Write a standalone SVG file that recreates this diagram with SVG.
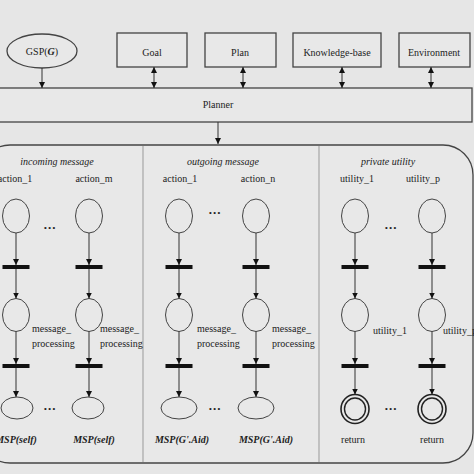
<svg xmlns="http://www.w3.org/2000/svg" width="474" height="474" viewBox="0 0 474 474">
<style>
text{font-family:"Liberation Serif","Times New Roman",serif;font-size:10px;fill:#222}
.m{text-anchor:middle}
.it{font-style:italic}
.bi{font-style:italic;font-weight:bold}
.box{fill:#e8e8e8;stroke:#444;stroke-width:1.3}
.ln{stroke:#333;stroke-width:1;fill:none}
.pl{fill:none;stroke:#444;stroke-width:1}
.bar{fill:#111}
.dots{font-size:13px;font-weight:bold;letter-spacing:1px;text-anchor:middle}
.div{stroke:#999;stroke-width:1}
</style>
<defs>
<marker id="ah" viewBox="0 0 8 8" refX="8" refY="4" markerWidth="6" markerHeight="6" orient="auto" markerUnits="userSpaceOnUse">
<path d="M0,0 L8,4 L0,8 z" fill="#111"/>
</marker>
<marker id="as" viewBox="0 0 8 8" refX="0" refY="4" markerWidth="6" markerHeight="6" orient="auto" markerUnits="userSpaceOnUse">
<path d="M8,0 L0,4 L8,8 z" fill="#111"/>
</marker>
</defs>
<rect x="0" y="0" width="474" height="474" fill="#e6e6e6"/>

<g id="gsp"><ellipse cx="42" cy="51" rx="35" ry="17" class="box"/><text x="42" y="55" class="m">GSP(<tspan class="bi">G</tspan>)</text></g>
<g id="goal"><rect x="117" y="33" width="70" height="34" class="box"/><text x="152" y="56" class="m">Goal</text></g>
<g id="plan"><rect x="205" y="33" width="71" height="34" class="box"/><text x="240" y="56" class="m">Plan</text></g>
<g id="kb"><rect x="293" y="33" width="88" height="34" class="box"/><text x="337" y="56" class="m">Knowledge-base</text></g>
<g id="env"><rect x="399" y="33" width="71" height="34" class="box"/><text x="434" y="56" class="m">Environment</text></g>
<g id="planner"><rect x="-5" y="88" width="477" height="34" class="box"/><text x="218" y="108" class="m">Planner</text></g>

<g id="container">
<rect x="-20" y="145" width="493" height="318" rx="30" ry="30" class="box"/>
<line x1="143" y1="146" x2="143" y2="462" class="div"/>
<line x1="319" y1="146" x2="319" y2="462" class="div"/>
<text x="57" y="165" class="m it">incoming message</text>
<text x="223" y="165" class="m it">outgoing message</text>
<text x="388" y="165" class="m it">private utility</text>
</g>

<g id="places">
<text x="15" y="182" class="m">action_1</text>
<text x="94" y="182" class="m">action_m</text>
<text x="180" y="182" class="m">action_1</text>
<text x="258" y="182" class="m">action_n</text>
<text x="357" y="182" class="m">utility_1</text>
<text x="423" y="182" class="m">utility_p</text>

<ellipse cx="16" cy="216" rx="13.5" ry="17" class="pl"/>
<ellipse cx="89" cy="216" rx="13.5" ry="17" class="pl"/>
<ellipse cx="179" cy="216" rx="13.5" ry="17" class="pl"/>
<ellipse cx="256" cy="216" rx="13.5" ry="17" class="pl"/>
<ellipse cx="355" cy="216" rx="13.5" ry="17" class="pl"/>
<ellipse cx="432" cy="216" rx="13.5" ry="17" class="pl"/>
<text x="50" y="229" class="dots">...</text>
<text x="215" y="214" class="dots">...</text>
<text x="391" y="229" class="dots">...</text>

<rect x="2.5" y="265" width="27" height="4" class="bar"/>
<rect x="75.5" y="265" width="27" height="4" class="bar"/>
<rect x="165.5" y="265" width="27" height="4" class="bar"/>
<rect x="242.5" y="265" width="27" height="4" class="bar"/>
<rect x="341.5" y="265" width="27" height="4" class="bar"/>
<rect x="418.5" y="265" width="27" height="4" class="bar"/>

<ellipse cx="16" cy="315" rx="13.5" ry="16.5" class="pl"/>
<ellipse cx="89" cy="315" rx="13.5" ry="16.5" class="pl"/>
<ellipse cx="179" cy="315" rx="13.5" ry="16.5" class="pl"/>
<ellipse cx="256" cy="315" rx="13.5" ry="16.5" class="pl"/>
<ellipse cx="355" cy="315" rx="13.5" ry="16.5" class="pl"/>
<ellipse cx="432" cy="315" rx="13.5" ry="16.5" class="pl"/>
<text x="32" y="332">message_</text><text x="32" y="347">processing</text>
<text x="100" y="332">message_</text><text x="100" y="347">processing</text>
<text x="197" y="332">message_</text><text x="197" y="347">processing</text>
<text x="272" y="332">message_</text><text x="272" y="347">processing</text>
<text x="373" y="334">utility_1</text>
<text x="443" y="334">utility_p</text>

<rect x="2.5" y="364" width="27" height="4" class="bar"/>
<rect x="75.5" y="364" width="27" height="4" class="bar"/>
<rect x="165.5" y="364" width="27" height="4" class="bar"/>
<rect x="242.5" y="364" width="27" height="4" class="bar"/>
<rect x="341.5" y="364" width="27" height="4" class="bar"/>
<rect x="418.5" y="364" width="27" height="4" class="bar"/>

<ellipse cx="17" cy="408" rx="16" ry="11" class="pl"/>
<ellipse cx="88" cy="408" rx="16" ry="11" class="pl"/>
<ellipse cx="179" cy="408" rx="18" ry="11" class="pl"/>
<ellipse cx="256" cy="408" rx="18" ry="11" class="pl"/>
<ellipse cx="355" cy="409" rx="14" ry="14.5" fill="none" stroke="#222" stroke-width="1.6"/>
<ellipse cx="355" cy="409" rx="10.5" ry="11" fill="none" stroke="#222" stroke-width="1.4"/>
<ellipse cx="432" cy="409" rx="14" ry="14.5" fill="none" stroke="#222" stroke-width="1.6"/>
<ellipse cx="432" cy="409" rx="10.5" ry="11" fill="none" stroke="#222" stroke-width="1.4"/>
<text x="50" y="410" class="dots">...</text>
<text x="215" y="410" class="dots">...</text>
<text x="391" y="410" class="dots">...</text>

<text x="16" y="443" class="m bi">MSP(self)</text>
<text x="94" y="443" class="m bi">MSP(self)</text>
<text x="182" y="443" class="m bi">MSP(G'.Aid)</text>
<text x="266" y="443" class="m bi">MSP(G'.Aid)</text>
<text x="353" y="443" class="m">return</text>
<text x="432" y="443" class="m">return</text>
</g>

<g id="connectors">
<line x1="42" y1="68" x2="42" y2="88" class="ln" marker-end="url(#ah)"/>
<line x1="154" y1="67" x2="154" y2="88" class="ln" marker-start="url(#as)" marker-end="url(#ah)"/>
<line x1="243" y1="67" x2="243" y2="88" class="ln" marker-start="url(#as)" marker-end="url(#ah)"/>
<line x1="342" y1="67" x2="342" y2="88" class="ln" marker-start="url(#as)" marker-end="url(#ah)"/>
<line x1="431" y1="67" x2="431" y2="88" class="ln" marker-start="url(#as)" marker-end="url(#ah)"/>
<line x1="218" y1="122" x2="218" y2="144" class="ln" marker-end="url(#ah)"/>

<g id="c1"><line x1="16" y1="233" x2="16" y2="265" class="ln" marker-end="url(#ah)"/><line x1="16" y1="269" x2="16" y2="298.5" class="ln" marker-end="url(#ah)"/><line x1="16" y1="331.5" x2="16" y2="364" class="ln" marker-end="url(#ah)"/><line x1="16" y1="368" x2="16" y2="397" class="ln" marker-end="url(#ah)"/></g>
<g id="c2"><line x1="89" y1="233" x2="89" y2="265" class="ln" marker-end="url(#ah)"/><line x1="89" y1="269" x2="89" y2="298.5" class="ln" marker-end="url(#ah)"/><line x1="89" y1="331.5" x2="89" y2="364" class="ln" marker-end="url(#ah)"/><line x1="89" y1="368" x2="89" y2="397" class="ln" marker-end="url(#ah)"/></g>
<g id="c3"><line x1="179" y1="233" x2="179" y2="265" class="ln" marker-end="url(#ah)"/><line x1="179" y1="269" x2="179" y2="298.5" class="ln" marker-end="url(#ah)"/><line x1="179" y1="331.5" x2="179" y2="364" class="ln" marker-end="url(#ah)"/><line x1="179" y1="368" x2="179" y2="397" class="ln" marker-end="url(#ah)"/></g>
<g id="c4"><line x1="256" y1="233" x2="256" y2="265" class="ln" marker-end="url(#ah)"/><line x1="256" y1="269" x2="256" y2="298.5" class="ln" marker-end="url(#ah)"/><line x1="256" y1="331.5" x2="256" y2="364" class="ln" marker-end="url(#ah)"/><line x1="256" y1="368" x2="256" y2="397" class="ln" marker-end="url(#ah)"/></g>
<g id="c5"><line x1="355" y1="233" x2="355" y2="265" class="ln" marker-end="url(#ah)"/><line x1="355" y1="269" x2="355" y2="298.5" class="ln" marker-end="url(#ah)"/><line x1="355" y1="331.5" x2="355" y2="364" class="ln" marker-end="url(#ah)"/><line x1="355" y1="368" x2="355" y2="394.5" class="ln" marker-end="url(#ah)"/></g>
<g id="c6"><line x1="432" y1="233" x2="432" y2="265" class="ln" marker-end="url(#ah)"/><line x1="432" y1="269" x2="432" y2="298.5" class="ln" marker-end="url(#ah)"/><line x1="432" y1="331.5" x2="432" y2="364" class="ln" marker-end="url(#ah)"/><line x1="432" y1="368" x2="432" y2="394.5" class="ln" marker-end="url(#ah)"/></g>
</g>
</svg>
